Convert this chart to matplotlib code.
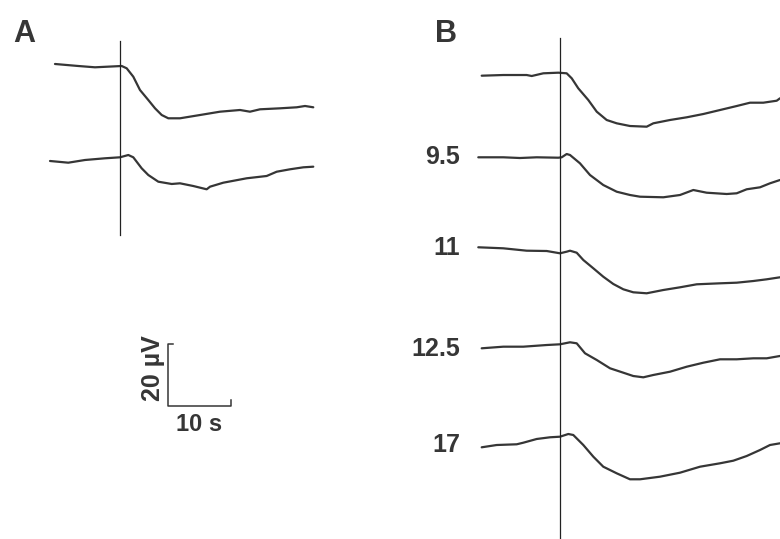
import matplotlib
matplotlib.use("Agg")
import matplotlib.pyplot as plt
import numpy as np

# ---------------- data (time in s relative to stimulus, deflection in µV) -----
# Panel A
a1_t = [-10.32, -6.62, -3.97, 0.27, 1.06, 2.11, 3.17, 4.49, 5.56, 6.62, 7.67, 9.52,
        12.70, 15.87, 19.05, 20.63, 22.22, 25.40, 28.05, 29.37, 30.68]
a1_v = [0.65, 0.0, -0.42, 0.0, -0.74, -3.45, -7.74, -10.97, -13.65, -15.81, -16.87, -16.87,
        -15.81, -14.74, -14.19, -14.74, -13.97, -13.65, -13.32, -12.90, -13.32]

a2_t = [-11.11, -8.21, -5.56, -2.38, 0.0, 1.32, 2.11, 3.44, 4.49, 6.08, 8.21, 9.52, 11.63,
        13.76, 14.29, 16.40, 20.11, 23.28, 24.87, 26.98, 29.10, 30.68]
a2_v = [-1.19, -1.74, -0.87, -0.32, 0.0, 0.74, 0.0, -3.55, -5.71, -7.87, -8.61, -8.39, -9.26,
        -10.32, -9.48, -8.19, -6.77, -6.03, -4.65, -3.87, -3.23, -3.03]

# Panel B
b1_t = [-12.43, -9.0, -5.29, -4.49, -2.65, -0.27, 1.06, 1.86, 2.90, 4.49, 5.83, 7.41, 9.0,
        11.11, 13.76, 14.81, 17.46, 20.11, 22.75, 25.40, 28.05, 30.16, 32.27, 34.40, 34.92]
b1_v = [-0.87, -0.65, -0.65, -0.97, -0.10, 0.10, -0.10, -1.71, -4.94, -8.71, -12.48, -15.16, -16.23,
        -17.10, -17.32, -16.23, -15.16, -14.29, -13.23, -11.94, -10.65, -9.58, -9.58, -8.94, -8.16]

b2_t = [-12.97, -9.0, -6.35, -3.70, -0.27, 0.27, 1.06, 1.59, 3.17, 4.76, 6.87, 9.0, 11.11,
        12.70, 16.40, 19.05, 21.16, 23.28, 26.46, 28.05, 29.63, 31.75, 33.33, 34.92]
b2_v = [0.0, 0.0, -0.23, 0.0, -0.13, 0.0, 1.06, 0.74, -1.94, -5.71, -8.94, -11.10, -12.16,
        -12.71, -12.90, -12.16, -10.55, -11.42, -11.84, -11.61, -10.32, -9.68, -8.39, -7.32]

b3_t = [-12.97, -9.0, -5.29, -2.11, 0.0, 1.06, 1.59, 2.65, 3.70, 5.29, 6.87, 8.46, 10.05,
        11.63, 13.76, 16.40, 19.05, 21.70, 25.40, 28.05, 30.68, 32.81, 34.92]
b3_v = [1.94, 1.61, 0.84, 0.74, 0.0, 0.52, 0.84, 0.19, -2.16, -4.84, -7.55, -9.90, -11.61,
        -12.58, -12.90, -11.84, -10.97, -10.00, -9.68, -9.48, -8.94, -8.39, -7.74]

b4_t = [-12.43, -9.0, -5.83, -2.11, 0.0, 1.59, 2.65, 3.97, 5.83, 7.94, 10.05, 11.63, 13.22,
        14.81, 17.46, 20.11, 22.75, 25.40, 28.05, 30.68, 32.81, 34.92]
b4_v = [-1.29, -0.77, -0.77, -0.23, 0.0, 0.65, 0.32, -2.90, -5.06, -7.74, -9.16, -10.23, -10.65,
        -9.90, -8.84, -7.23, -5.94, -4.84, -4.84, -4.52, -4.52, -3.77]

b5_t = [-12.43, -10.05, -6.87, -5.83, -3.70, -1.59, 0.0, 1.32, 2.11, 3.70, 5.29, 6.87, 9.0,
        11.11, 12.70, 15.87, 19.05, 22.22, 25.40, 27.51, 29.63, 31.75, 33.33, 34.92]
b5_v = [-3.42, -2.68, -2.45, -1.94, -0.74, -0.19, 0.0, 0.87, 0.55, -2.68, -6.45, -9.68, -11.81,
        -13.74, -13.74, -12.90, -11.61, -9.68, -8.58, -7.74, -6.23, -4.29, -2.68, -2.13]

b_labels = ["", "9.5", "11", "12.5", "17"]
scale_time = 10    # s
scale_volt = 20    # µV

# ---------------- layout ------------------------------------------------------
W, H = 780, 539
PX_PER_S = 6.3
PX_PER_UV = 3.1
col = "#363636"
font = ["Liberation Sans", "DejaVu Sans"]

fig = plt.figure(figsize=(W / 100, H / 100), dpi=100)
fig.patch.set_facecolor("white")

def make_ax(x0, x1, t0_px):
    ax = fig.add_axes([x0 / W, 0, (x1 - x0) / W, 1])
    ax.set_xlim((x0 - t0_px) / PX_PER_S, (x1 - t0_px) / PX_PER_S)
    ax.set_ylim(0, H / PX_PER_UV)
    ax.axis("off")
    return ax

def base(py):
    return (H - py) / PX_PER_UV

axA = make_ax(0, 380, 120)
axB = make_ax(380, 780, 560)

trace_kw = dict(color=col, lw=1.6, solid_joinstyle="round", solid_capstyle="round")

# Panel A traces
for (t, v), b in zip([(a1_t, a1_v), (a2_t, a2_v)], [66, 157.3]):
    axA.plot(t, np.array(v) + base(b), **trace_kw)
axA.plot([0, 0], [base(235), base(41)], color="#222222", lw=0.9)

# scale bar
sx, sy = (168 - 120) / PX_PER_S, base(406)
tick_t = 5 / PX_PER_S
tick_v = 6 / PX_PER_UV
axA.plot([sx + tick_t, sx, sx, sx + scale_time, sx + scale_time],
         [sy + scale_volt, sy + scale_volt, sy, sy, sy + tick_v],
         color=col, lw=1.1)
axA.text((153 - 120) / PX_PER_S, base(368), "20 µV", rotation=90, ha="center", va="center",
         fontsize=18, fontweight="bold", color=col, family=font)
axA.text(sx + scale_time / 2, base(424.5), "10 s", ha="center", va="center",
         fontsize=17, fontweight="bold", color=col, family=font)

# Panel B traces
b_series = [(b1_t, b1_v), (b2_t, b2_v), (b3_t, b3_v), (b4_t, b4_v), (b5_t, b5_v)]
b_bases = [73, 157.3, 253.3, 344.3, 436.7]
label_py = [0, 157, 248, 349, 445]
for (t, v), b, lab, lp in zip(b_series, b_bases, b_labels, label_py):
    axB.plot(t, np.array(v) + base(b), **trace_kw)
    if lab:
        axB.text((460 - 560) / PX_PER_S, base(lp), lab, ha="right", va="center",
                 fontsize=18, fontweight="bold", color=col, family=font)
axB.plot([0, 0], [0, base(38)], color="#222222", lw=0.9)

# panel letters
fig.text(13 / W, 1 - 34 / H, "A", ha="left", va="center", fontsize=22,
         fontweight="bold", color=col, family=font)
fig.text(435 / W, 1 - 34 / H, "B", ha="left", va="center", fontsize=22,
         fontweight="bold", color=col, family=font)

fig.savefig("out.png", dpi=100, facecolor="white")
